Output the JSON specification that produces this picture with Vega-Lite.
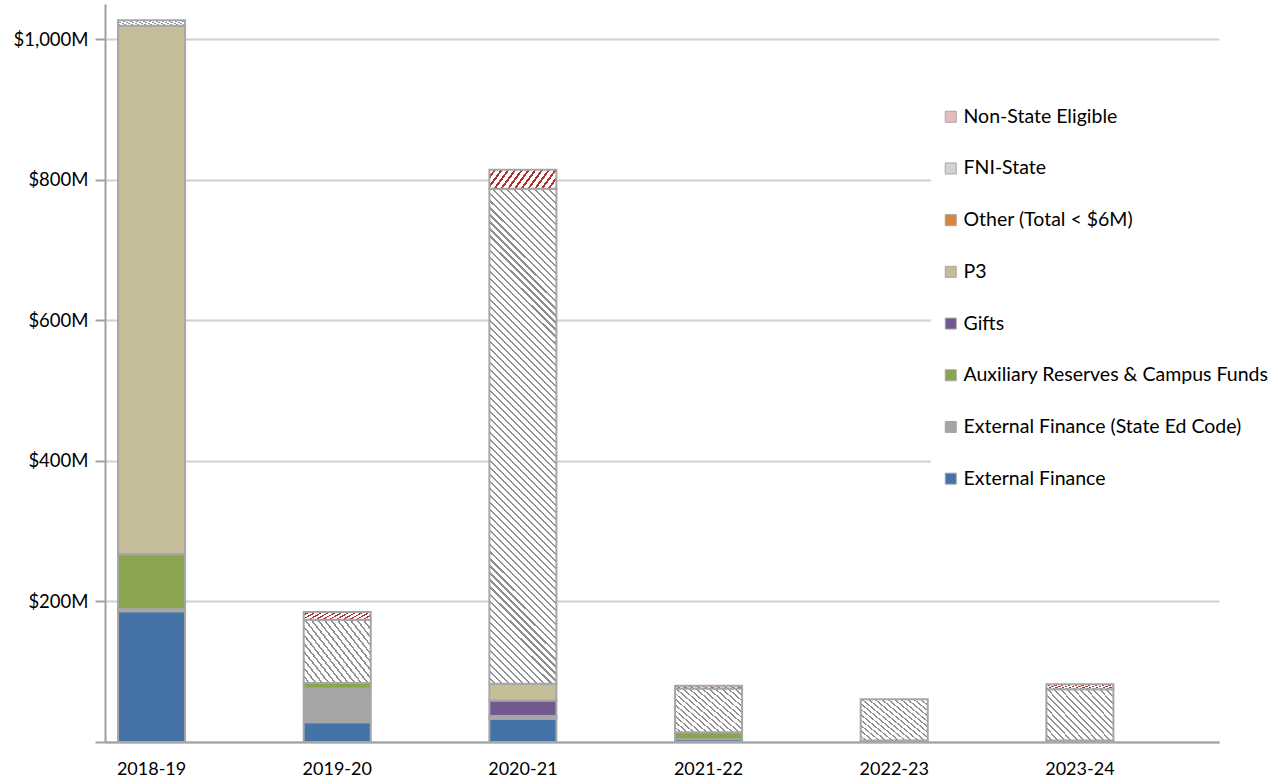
{
"$schema": "https://vega.github.io/schema/vega-lite/v6.json",
"width": 1114, "height": 738,
"autosize": {"type": "none"},
"padding": {"left": 105, "top": 4, "right": 59, "bottom": 42},
"background": "white",
"config": {"view": {"stroke": null}, "font": "Lato"},
"data": {"values": [
{"year": "2018-19", "source": "External Finance", "amount": 186},
{"year": "2018-19", "source": "External Finance (State Ed Code)", "amount": 3},
{"year": "2018-19", "source": "Auxiliary Reserves & Campus Funds", "amount": 78},
{"year": "2018-19", "source": "P3", "amount": 752},
{"year": "2018-19", "source": "FNI-State", "amount": 8},
{"year": "2019-20", "source": "External Finance", "amount": 28},
{"year": "2019-20", "source": "External Finance (State Ed Code)", "amount": 48},
{"year": "2019-20", "source": "Auxiliary Reserves & Campus Funds", "amount": 8},
{"year": "2019-20", "source": "FNI-State", "amount": 90},
{"year": "2019-20", "source": "Non-State Eligible", "amount": 11},
{"year": "2020-21", "source": "External Finance", "amount": 33},
{"year": "2020-21", "source": "External Finance (State Ed Code)", "amount": 4},
{"year": "2020-21", "source": "Gifts", "amount": 22},
{"year": "2020-21", "source": "P3", "amount": 24},
{"year": "2020-21", "source": "FNI-State", "amount": 704},
{"year": "2020-21", "source": "Non-State Eligible", "amount": 27},
{"year": "2021-22", "source": "External Finance", "amount": 4},
{"year": "2021-22", "source": "Auxiliary Reserves & Campus Funds", "amount": 10},
{"year": "2021-22", "source": "FNI-State", "amount": 62},
{"year": "2021-22", "source": "Non-State Eligible", "amount": 4},
{"year": "2022-23", "source": "Auxiliary Reserves & Campus Funds", "amount": 2},
{"year": "2022-23", "source": "FNI-State", "amount": 59},
{"year": "2023-24", "source": "Auxiliary Reserves & Campus Funds", "amount": 2},
{"year": "2023-24", "source": "FNI-State", "amount": 73},
{"year": "2023-24", "source": "Non-State Eligible", "amount": 7}
]},
"transform": [{"stack": "amount", "groupby": ["year"], "as": ["y0", "y1"]}],
"encoding": {
"x": {"field": "year", "type": "nominal", "sort": null,
 "scale": {"domain": ["2018-19","2019-20","2020-21","2021-22","2022-23","2023-24"], "paddingInner": 0.639, "paddingOuter": 0.3195, "align": 0.11},
 "axis": {"title": null, "ticks": false, "tickSize": 0, "domainColor": "#a0a0a0", "domainWidth": 2, "labelFont": "Lato", "labelFontSize": 18, "labelColor": "#000000", "labelPadding": 18, "labelAngle": 0, "grid": false}},
"y": {"field": "y1", "type": "quantitative",
 "scale": {"domain": [0, 1050], "nice": false},
 "axis": {"title": null, "values": [0,200,400,600,800,1000], "labelExpr": "datum.value === 0 ? '' : '$' + format(datum.value, ',') + 'M'", "grid": true, "gridColor": "#d0d0d0", "gridWidth": 2, "domainColor": "#a0a0a0", "domainWidth": 2, "tickColor": "#a0a0a0", "tickWidth": 2, "tickSize": 10, "labelPadding": 7, "labelFont": "Lato", "labelFontSize": 18.5, "labelColor": "#000000"}},
"y2": {"field": "y0"}
},
"layer": [
{"transform": [{"filter": "datum.source !== 'FNI-State' && datum.source !== 'Non-State Eligible'"}],
 "mark": {"type": "bar", "stroke": "#a6a6a6", "strokeWidth": 2},
 "encoding": {"fill": {"field": "source", "type": "nominal",
  "scale": {"domain": ["Non-State Eligible","FNI-State","Other (Total < $6M)","P3","Gifts","Auxiliary Reserves & Campus Funds","External Finance (State Ed Code)","External Finance"],
            "range": ["#e3bcbc","#d2d2d2","#DB843D","#C4BD97","#71588F","#89A54E","#A5A5A5","#4572A7"]},
  "legend": {"title": null, "orient": "none", "legendX": 826, "legendY": 93, "fillColor": "white", "padding": 10, "symbolType": "square", "symbolSize": 121, "symbolStrokeColor": "#a6a6a6", "symbolStrokeWidth": 1, "labelFont": "Lato", "labelFontSize": 19.5, "labelColor": "#000000", "labelOffset": 3, "rowPadding": 30.7, "labelLimit": 400}}}},
{"transform": [{"filter": "datum.source === 'FNI-State'"}],
 "mark": {"type": "bar", "stroke": "#a6a6a6", "strokeWidth": 2},
 "encoding": {"fill": {
  "condition": {"test": "datum.year === '2020-21'", "value": {"gradient": "linear", "x1": 0, "y1": 1, "x2": 0.1507, "y2": -0.1146, "stops": [
{"offset":0,"color":"#fff"},{"offset":0.00875,"color":"#fff"},{"offset":0.00875,"color":"#8f8f8f"},{"offset":0.0125,"color":"#8f8f8f"},
{"offset":0.0125,"color":"#fff"},{"offset":0.02125,"color":"#fff"},{"offset":0.02125,"color":"#8f8f8f"},{"offset":0.025,"color":"#8f8f8f"},
{"offset":0.025,"color":"#fff"},{"offset":0.03375,"color":"#fff"},{"offset":0.03375,"color":"#8f8f8f"},{"offset":0.0375,"color":"#8f8f8f"},
{"offset":0.0375,"color":"#fff"},{"offset":0.04625,"color":"#fff"},{"offset":0.04625,"color":"#8f8f8f"},{"offset":0.05,"color":"#8f8f8f"},
{"offset":0.05,"color":"#fff"},{"offset":0.05875,"color":"#fff"},{"offset":0.05875,"color":"#8f8f8f"},{"offset":0.0625,"color":"#8f8f8f"},
{"offset":0.0625,"color":"#fff"},{"offset":0.07125,"color":"#fff"},{"offset":0.07125,"color":"#8f8f8f"},{"offset":0.075,"color":"#8f8f8f"},
{"offset":0.075,"color":"#fff"},{"offset":0.08375,"color":"#fff"},{"offset":0.08375,"color":"#8f8f8f"},{"offset":0.0875,"color":"#8f8f8f"},
{"offset":0.0875,"color":"#fff"},{"offset":0.09625,"color":"#fff"},{"offset":0.09625,"color":"#8f8f8f"},{"offset":0.1,"color":"#8f8f8f"},
{"offset":0.1,"color":"#fff"},{"offset":0.10875,"color":"#fff"},{"offset":0.10875,"color":"#8f8f8f"},{"offset":0.1125,"color":"#8f8f8f"},
{"offset":0.1125,"color":"#fff"},{"offset":0.12125,"color":"#fff"},{"offset":0.12125,"color":"#8f8f8f"},{"offset":0.125,"color":"#8f8f8f"},
{"offset":0.125,"color":"#fff"},{"offset":0.13375,"color":"#fff"},{"offset":0.13375,"color":"#8f8f8f"},{"offset":0.1375,"color":"#8f8f8f"},
{"offset":0.1375,"color":"#fff"},{"offset":0.14625,"color":"#fff"},{"offset":0.14625,"color":"#8f8f8f"},{"offset":0.15,"color":"#8f8f8f"},
{"offset":0.15,"color":"#fff"},{"offset":0.15875,"color":"#fff"},{"offset":0.15875,"color":"#8f8f8f"},{"offset":0.1625,"color":"#8f8f8f"},
{"offset":0.1625,"color":"#fff"},{"offset":0.17125,"color":"#fff"},{"offset":0.17125,"color":"#8f8f8f"},{"offset":0.175,"color":"#8f8f8f"},
{"offset":0.175,"color":"#fff"},{"offset":0.18375,"color":"#fff"},{"offset":0.18375,"color":"#8f8f8f"},{"offset":0.1875,"color":"#8f8f8f"},
{"offset":0.1875,"color":"#fff"},{"offset":0.19625,"color":"#fff"},{"offset":0.19625,"color":"#8f8f8f"},{"offset":0.2,"color":"#8f8f8f"},
{"offset":0.2,"color":"#fff"},{"offset":0.20875,"color":"#fff"},{"offset":0.20875,"color":"#8f8f8f"},{"offset":0.2125,"color":"#8f8f8f"},
{"offset":0.2125,"color":"#fff"},{"offset":0.22125,"color":"#fff"},{"offset":0.22125,"color":"#8f8f8f"},{"offset":0.225,"color":"#8f8f8f"},
{"offset":0.225,"color":"#fff"},{"offset":0.23375,"color":"#fff"},{"offset":0.23375,"color":"#8f8f8f"},{"offset":0.2375,"color":"#8f8f8f"},
{"offset":0.2375,"color":"#fff"},{"offset":0.24625,"color":"#fff"},{"offset":0.24625,"color":"#8f8f8f"},{"offset":0.25,"color":"#8f8f8f"},
{"offset":0.25,"color":"#fff"},{"offset":0.25875,"color":"#fff"},{"offset":0.25875,"color":"#8f8f8f"},{"offset":0.2625,"color":"#8f8f8f"},
{"offset":0.2625,"color":"#fff"},{"offset":0.27125,"color":"#fff"},{"offset":0.27125,"color":"#8f8f8f"},{"offset":0.275,"color":"#8f8f8f"},
{"offset":0.275,"color":"#fff"},{"offset":0.28375,"color":"#fff"},{"offset":0.28375,"color":"#8f8f8f"},{"offset":0.2875,"color":"#8f8f8f"},
{"offset":0.2875,"color":"#fff"},{"offset":0.29625,"color":"#fff"},{"offset":0.29625,"color":"#8f8f8f"},{"offset":0.3,"color":"#8f8f8f"},
{"offset":0.3,"color":"#fff"},{"offset":0.30875,"color":"#fff"},{"offset":0.30875,"color":"#8f8f8f"},{"offset":0.3125,"color":"#8f8f8f"},
{"offset":0.3125,"color":"#fff"},{"offset":0.32125,"color":"#fff"},{"offset":0.32125,"color":"#8f8f8f"},{"offset":0.325,"color":"#8f8f8f"},
{"offset":0.325,"color":"#fff"},{"offset":0.33375,"color":"#fff"},{"offset":0.33375,"color":"#8f8f8f"},{"offset":0.3375,"color":"#8f8f8f"},
{"offset":0.3375,"color":"#fff"},{"offset":0.34625,"color":"#fff"},{"offset":0.34625,"color":"#8f8f8f"},{"offset":0.35,"color":"#8f8f8f"},
{"offset":0.35,"color":"#fff"},{"offset":0.35875,"color":"#fff"},{"offset":0.35875,"color":"#8f8f8f"},{"offset":0.3625,"color":"#8f8f8f"},
{"offset":0.3625,"color":"#fff"},{"offset":0.37125,"color":"#fff"},{"offset":0.37125,"color":"#8f8f8f"},{"offset":0.375,"color":"#8f8f8f"},
{"offset":0.375,"color":"#fff"},{"offset":0.38375,"color":"#fff"},{"offset":0.38375,"color":"#8f8f8f"},{"offset":0.3875,"color":"#8f8f8f"},
{"offset":0.3875,"color":"#fff"},{"offset":0.39625,"color":"#fff"},{"offset":0.39625,"color":"#8f8f8f"},{"offset":0.4,"color":"#8f8f8f"},
{"offset":0.4,"color":"#fff"},{"offset":0.40875,"color":"#fff"},{"offset":0.40875,"color":"#8f8f8f"},{"offset":0.4125,"color":"#8f8f8f"},
{"offset":0.4125,"color":"#fff"},{"offset":0.42125,"color":"#fff"},{"offset":0.42125,"color":"#8f8f8f"},{"offset":0.425,"color":"#8f8f8f"},
{"offset":0.425,"color":"#fff"},{"offset":0.43375,"color":"#fff"},{"offset":0.43375,"color":"#8f8f8f"},{"offset":0.4375,"color":"#8f8f8f"},
{"offset":0.4375,"color":"#fff"},{"offset":0.44625,"color":"#fff"},{"offset":0.44625,"color":"#8f8f8f"},{"offset":0.45,"color":"#8f8f8f"},
{"offset":0.45,"color":"#fff"},{"offset":0.45875,"color":"#fff"},{"offset":0.45875,"color":"#8f8f8f"},{"offset":0.4625,"color":"#8f8f8f"},
{"offset":0.4625,"color":"#fff"},{"offset":0.47125,"color":"#fff"},{"offset":0.47125,"color":"#8f8f8f"},{"offset":0.475,"color":"#8f8f8f"},
{"offset":0.475,"color":"#fff"},{"offset":0.48375,"color":"#fff"},{"offset":0.48375,"color":"#8f8f8f"},{"offset":0.4875,"color":"#8f8f8f"},
{"offset":0.4875,"color":"#fff"},{"offset":0.49625,"color":"#fff"},{"offset":0.49625,"color":"#8f8f8f"},{"offset":0.5,"color":"#8f8f8f"},
{"offset":0.5,"color":"#fff"},{"offset":0.50875,"color":"#fff"},{"offset":0.50875,"color":"#8f8f8f"},{"offset":0.5125,"color":"#8f8f8f"},
{"offset":0.5125,"color":"#fff"},{"offset":0.52125,"color":"#fff"},{"offset":0.52125,"color":"#8f8f8f"},{"offset":0.525,"color":"#8f8f8f"},
{"offset":0.525,"color":"#fff"},{"offset":0.53375,"color":"#fff"},{"offset":0.53375,"color":"#8f8f8f"},{"offset":0.5375,"color":"#8f8f8f"},
{"offset":0.5375,"color":"#fff"},{"offset":0.54625,"color":"#fff"},{"offset":0.54625,"color":"#8f8f8f"},{"offset":0.55,"color":"#8f8f8f"},
{"offset":0.55,"color":"#fff"},{"offset":0.55875,"color":"#fff"},{"offset":0.55875,"color":"#8f8f8f"},{"offset":0.5625,"color":"#8f8f8f"},
{"offset":0.5625,"color":"#fff"},{"offset":0.57125,"color":"#fff"},{"offset":0.57125,"color":"#8f8f8f"},{"offset":0.575,"color":"#8f8f8f"},
{"offset":0.575,"color":"#fff"},{"offset":0.58375,"color":"#fff"},{"offset":0.58375,"color":"#8f8f8f"},{"offset":0.5875,"color":"#8f8f8f"},
{"offset":0.5875,"color":"#fff"},{"offset":0.59625,"color":"#fff"},{"offset":0.59625,"color":"#8f8f8f"},{"offset":0.6,"color":"#8f8f8f"},
{"offset":0.6,"color":"#fff"},{"offset":0.60875,"color":"#fff"},{"offset":0.60875,"color":"#8f8f8f"},{"offset":0.6125,"color":"#8f8f8f"},
{"offset":0.6125,"color":"#fff"},{"offset":0.62125,"color":"#fff"},{"offset":0.62125,"color":"#8f8f8f"},{"offset":0.625,"color":"#8f8f8f"},
{"offset":0.625,"color":"#fff"},{"offset":0.63375,"color":"#fff"},{"offset":0.63375,"color":"#8f8f8f"},{"offset":0.6375,"color":"#8f8f8f"},
{"offset":0.6375,"color":"#fff"},{"offset":0.64625,"color":"#fff"},{"offset":0.64625,"color":"#8f8f8f"},{"offset":0.65,"color":"#8f8f8f"},
{"offset":0.65,"color":"#fff"},{"offset":0.65875,"color":"#fff"},{"offset":0.65875,"color":"#8f8f8f"},{"offset":0.6625,"color":"#8f8f8f"},
{"offset":0.6625,"color":"#fff"},{"offset":0.67125,"color":"#fff"},{"offset":0.67125,"color":"#8f8f8f"},{"offset":0.675,"color":"#8f8f8f"},
{"offset":0.675,"color":"#fff"},{"offset":0.68375,"color":"#fff"},{"offset":0.68375,"color":"#8f8f8f"},{"offset":0.6875,"color":"#8f8f8f"},
{"offset":0.6875,"color":"#fff"},{"offset":0.69625,"color":"#fff"},{"offset":0.69625,"color":"#8f8f8f"},{"offset":0.7,"color":"#8f8f8f"},
{"offset":0.7,"color":"#fff"},{"offset":0.70875,"color":"#fff"},{"offset":0.70875,"color":"#8f8f8f"},{"offset":0.7125,"color":"#8f8f8f"},
{"offset":0.7125,"color":"#fff"},{"offset":0.72125,"color":"#fff"},{"offset":0.72125,"color":"#8f8f8f"},{"offset":0.725,"color":"#8f8f8f"},
{"offset":0.725,"color":"#fff"},{"offset":0.73375,"color":"#fff"},{"offset":0.73375,"color":"#8f8f8f"},{"offset":0.7375,"color":"#8f8f8f"},
{"offset":0.7375,"color":"#fff"},{"offset":0.74625,"color":"#fff"},{"offset":0.74625,"color":"#8f8f8f"},{"offset":0.75,"color":"#8f8f8f"},
{"offset":0.75,"color":"#fff"},{"offset":0.75875,"color":"#fff"},{"offset":0.75875,"color":"#8f8f8f"},{"offset":0.7625,"color":"#8f8f8f"},
{"offset":0.7625,"color":"#fff"},{"offset":0.77125,"color":"#fff"},{"offset":0.77125,"color":"#8f8f8f"},{"offset":0.775,"color":"#8f8f8f"},
{"offset":0.775,"color":"#fff"},{"offset":0.78375,"color":"#fff"},{"offset":0.78375,"color":"#8f8f8f"},{"offset":0.7875,"color":"#8f8f8f"},
{"offset":0.7875,"color":"#fff"},{"offset":0.79625,"color":"#fff"},{"offset":0.79625,"color":"#8f8f8f"},{"offset":0.8,"color":"#8f8f8f"},
{"offset":0.8,"color":"#fff"},{"offset":0.80875,"color":"#fff"},{"offset":0.80875,"color":"#8f8f8f"},{"offset":0.8125,"color":"#8f8f8f"},
{"offset":0.8125,"color":"#fff"},{"offset":0.82125,"color":"#fff"},{"offset":0.82125,"color":"#8f8f8f"},{"offset":0.825,"color":"#8f8f8f"},
{"offset":0.825,"color":"#fff"},{"offset":0.83375,"color":"#fff"},{"offset":0.83375,"color":"#8f8f8f"},{"offset":0.8375,"color":"#8f8f8f"},
{"offset":0.8375,"color":"#fff"},{"offset":0.84625,"color":"#fff"},{"offset":0.84625,"color":"#8f8f8f"},{"offset":0.85,"color":"#8f8f8f"},
{"offset":0.85,"color":"#fff"},{"offset":0.85875,"color":"#fff"},{"offset":0.85875,"color":"#8f8f8f"},{"offset":0.8625,"color":"#8f8f8f"},
{"offset":0.8625,"color":"#fff"},{"offset":0.87125,"color":"#fff"},{"offset":0.87125,"color":"#8f8f8f"},{"offset":0.875,"color":"#8f8f8f"},
{"offset":0.875,"color":"#fff"},{"offset":0.88375,"color":"#fff"},{"offset":0.88375,"color":"#8f8f8f"},{"offset":0.8875,"color":"#8f8f8f"},
{"offset":0.8875,"color":"#fff"},{"offset":0.89625,"color":"#fff"},{"offset":0.89625,"color":"#8f8f8f"},{"offset":0.9,"color":"#8f8f8f"},
{"offset":0.9,"color":"#fff"},{"offset":0.90875,"color":"#fff"},{"offset":0.90875,"color":"#8f8f8f"},{"offset":0.9125,"color":"#8f8f8f"},
{"offset":0.9125,"color":"#fff"},{"offset":0.92125,"color":"#fff"},{"offset":0.92125,"color":"#8f8f8f"},{"offset":0.925,"color":"#8f8f8f"},
{"offset":0.925,"color":"#fff"},{"offset":0.93375,"color":"#fff"},{"offset":0.93375,"color":"#8f8f8f"},{"offset":0.9375,"color":"#8f8f8f"},
{"offset":0.9375,"color":"#fff"},{"offset":0.94625,"color":"#fff"},{"offset":0.94625,"color":"#8f8f8f"},{"offset":0.95,"color":"#8f8f8f"},
{"offset":0.95,"color":"#fff"},{"offset":0.95875,"color":"#fff"},{"offset":0.95875,"color":"#8f8f8f"},{"offset":0.9625,"color":"#8f8f8f"},
{"offset":0.9625,"color":"#fff"},{"offset":0.97125,"color":"#fff"},{"offset":0.97125,"color":"#8f8f8f"},{"offset":0.975,"color":"#8f8f8f"},
{"offset":0.975,"color":"#fff"},{"offset":0.98375,"color":"#fff"},{"offset":0.98375,"color":"#8f8f8f"},{"offset":0.9875,"color":"#8f8f8f"},
{"offset":0.9875,"color":"#fff"},{"offset":0.99625,"color":"#fff"},{"offset":0.99625,"color":"#8f8f8f"},{"offset":1,"color":"#8f8f8f"}
  ]}},
  "value": {"gradient": "linear", "x1": 0, "y1": 1, "x2": 1.1217, "y2": 0.1632, "stops": [
{"offset":0,"color":"#fff"},{"offset":0.03889,"color":"#fff"},{"offset":0.03889,"color":"#8f8f8f"},{"offset":0.05556,"color":"#8f8f8f"},
{"offset":0.05556,"color":"#fff"},{"offset":0.09444,"color":"#fff"},{"offset":0.09444,"color":"#8f8f8f"},{"offset":0.11111,"color":"#8f8f8f"},
{"offset":0.11111,"color":"#fff"},{"offset":0.15,"color":"#fff"},{"offset":0.15,"color":"#8f8f8f"},{"offset":0.16667,"color":"#8f8f8f"},
{"offset":0.16667,"color":"#fff"},{"offset":0.20556,"color":"#fff"},{"offset":0.20556,"color":"#8f8f8f"},{"offset":0.22222,"color":"#8f8f8f"},
{"offset":0.22222,"color":"#fff"},{"offset":0.26111,"color":"#fff"},{"offset":0.26111,"color":"#8f8f8f"},{"offset":0.27778,"color":"#8f8f8f"},
{"offset":0.27778,"color":"#fff"},{"offset":0.31667,"color":"#fff"},{"offset":0.31667,"color":"#8f8f8f"},{"offset":0.33333,"color":"#8f8f8f"},
{"offset":0.33333,"color":"#fff"},{"offset":0.37222,"color":"#fff"},{"offset":0.37222,"color":"#8f8f8f"},{"offset":0.38889,"color":"#8f8f8f"},
{"offset":0.38889,"color":"#fff"},{"offset":0.42778,"color":"#fff"},{"offset":0.42778,"color":"#8f8f8f"},{"offset":0.44444,"color":"#8f8f8f"},
{"offset":0.44444,"color":"#fff"},{"offset":0.48333,"color":"#fff"},{"offset":0.48333,"color":"#8f8f8f"},{"offset":0.5,"color":"#8f8f8f"},
{"offset":0.5,"color":"#fff"},{"offset":0.53889,"color":"#fff"},{"offset":0.53889,"color":"#8f8f8f"},{"offset":0.55556,"color":"#8f8f8f"},
{"offset":0.55556,"color":"#fff"},{"offset":0.59444,"color":"#fff"},{"offset":0.59444,"color":"#8f8f8f"},{"offset":0.61111,"color":"#8f8f8f"},
{"offset":0.61111,"color":"#fff"},{"offset":0.65,"color":"#fff"},{"offset":0.65,"color":"#8f8f8f"},{"offset":0.66667,"color":"#8f8f8f"},
{"offset":0.66667,"color":"#fff"},{"offset":0.70556,"color":"#fff"},{"offset":0.70556,"color":"#8f8f8f"},{"offset":0.72222,"color":"#8f8f8f"},
{"offset":0.72222,"color":"#fff"},{"offset":0.76111,"color":"#fff"},{"offset":0.76111,"color":"#8f8f8f"},{"offset":0.77778,"color":"#8f8f8f"},
{"offset":0.77778,"color":"#fff"},{"offset":0.81667,"color":"#fff"},{"offset":0.81667,"color":"#8f8f8f"},{"offset":0.83333,"color":"#8f8f8f"},
{"offset":0.83333,"color":"#fff"},{"offset":0.87222,"color":"#fff"},{"offset":0.87222,"color":"#8f8f8f"},{"offset":0.88889,"color":"#8f8f8f"},
{"offset":0.88889,"color":"#fff"},{"offset":0.92778,"color":"#fff"},{"offset":0.92778,"color":"#8f8f8f"},{"offset":0.94444,"color":"#8f8f8f"},
{"offset":0.94444,"color":"#fff"},{"offset":0.98333,"color":"#fff"},{"offset":0.98333,"color":"#8f8f8f"},{"offset":1,"color":"#8f8f8f"}
  ]}}}},
{"transform": [{"filter": "datum.source === 'Non-State Eligible'"}],
 "mark": {"type": "bar", "stroke": "#a6a6a6", "strokeWidth": 2,
  "fill": {"gradient": "linear", "x1": 0, "y1": 0, "x2": 1.1584, "y2": 0.2421, "stops": [
{"offset":0,"color":"#fff"},{"offset":0.05417,"color":"#fff"},{"offset":0.05417,"color":"#b03030"},{"offset":0.08333,"color":"#b03030"},
{"offset":0.08333,"color":"#fff"},{"offset":0.1375,"color":"#fff"},{"offset":0.1375,"color":"#b03030"},{"offset":0.16667,"color":"#b03030"},
{"offset":0.16667,"color":"#fff"},{"offset":0.22083,"color":"#fff"},{"offset":0.22083,"color":"#b03030"},{"offset":0.25,"color":"#b03030"},
{"offset":0.25,"color":"#fff"},{"offset":0.30417,"color":"#fff"},{"offset":0.30417,"color":"#b03030"},{"offset":0.33333,"color":"#b03030"},
{"offset":0.33333,"color":"#fff"},{"offset":0.3875,"color":"#fff"},{"offset":0.3875,"color":"#b03030"},{"offset":0.41667,"color":"#b03030"},
{"offset":0.41667,"color":"#fff"},{"offset":0.47083,"color":"#fff"},{"offset":0.47083,"color":"#b03030"},{"offset":0.5,"color":"#b03030"},
{"offset":0.5,"color":"#fff"},{"offset":0.55417,"color":"#fff"},{"offset":0.55417,"color":"#b03030"},{"offset":0.58333,"color":"#b03030"},
{"offset":0.58333,"color":"#fff"},{"offset":0.6375,"color":"#fff"},{"offset":0.6375,"color":"#b03030"},{"offset":0.66667,"color":"#b03030"},
{"offset":0.66667,"color":"#fff"},{"offset":0.72083,"color":"#fff"},{"offset":0.72083,"color":"#b03030"},{"offset":0.75,"color":"#b03030"},
{"offset":0.75,"color":"#fff"},{"offset":0.80417,"color":"#fff"},{"offset":0.80417,"color":"#b03030"},{"offset":0.83333,"color":"#b03030"},
{"offset":0.83333,"color":"#fff"},{"offset":0.8875,"color":"#fff"},{"offset":0.8875,"color":"#b03030"},{"offset":0.91667,"color":"#b03030"},
{"offset":0.91667,"color":"#fff"},{"offset":0.97083,"color":"#fff"},{"offset":0.97083,"color":"#b03030"},{"offset":1,"color":"#b03030"}
  ]}},
 "encoding": {}}
]
}
